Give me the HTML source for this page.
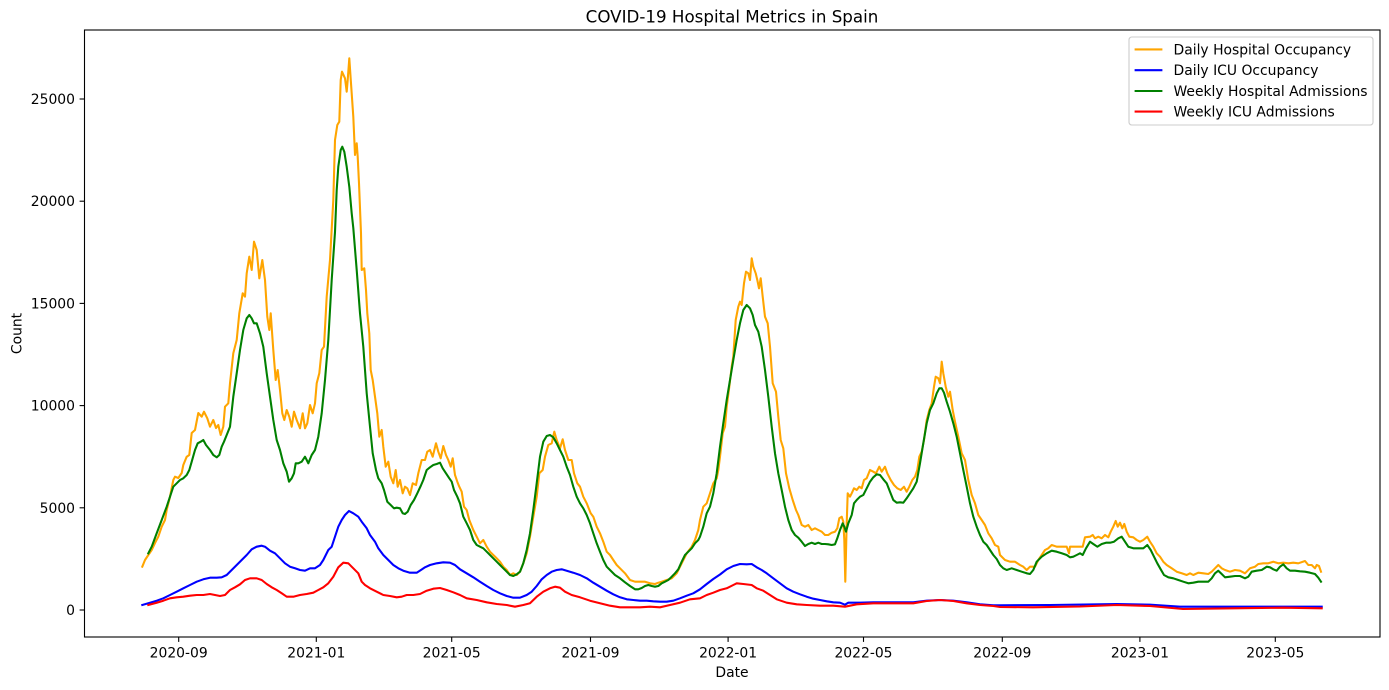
<!DOCTYPE html>
<html>
<head>
<meta charset="utf-8">
<style>
html,body{margin:0;padding:0;background:#fff;}
svg{display:block;}
text{font-family:"DejaVu Sans","Liberation Sans",sans-serif;fill:#000;}
</style>
</head>
<body>
<svg width="1389" height="690" viewBox="0 0 1389 690" xmlns="http://www.w3.org/2000/svg">
<rect x="0" y="0" width="1389" height="690" fill="#fff"/>
<defs>
<clipPath id="ax"><rect x="84.5" y="30" width="1295.5" height="607"/></clipPath>
</defs>

<text x="732" y="22.3" font-size="16.7" text-anchor="middle">COVID-19 Hospital Metrics in Spain</text>

<g clip-path="url(#ax)" fill="none" stroke-width="2.08" stroke-linejoin="round" stroke-linecap="square">
<!-- Daily Hospital Occupancy -->
<polyline stroke="#FFA500" points="142.3,566.7 145,560 148.3,555 151.7,550 155,543 158.3,536.7 161.7,526.7 165,520 166.7,510 170,496.7 173.3,480 175,476.7 178.3,478 181.7,473 183.3,465 186.7,456.7 189.3,455 191.7,433 195,430 198.3,413 201.7,416.7 204,411.7 207.3,418.3 210,426.7 213.3,420 216,428 218.3,425 220.7,435 223.3,426.7 225,406.7 228.3,403.3 230,383.3 233.3,353.3 236.7,340 239.3,313.3 242.7,293.3 245,296.7 246.7,273.3 249.3,256.7 251.7,270 254,241.7 256.7,250 259.3,278.3 262.3,260 265,280 267.3,316.7 269.3,330 270.7,313.3 273.3,350 275.7,380 277.7,370 280,390 282.3,413.3 284.3,420 286.7,410 289.3,416.7 291.7,426.7 294,411.7 296.7,420 300,428.3 302.7,413.3 305,428.3 307.3,423.3 310,405 312.7,413.3 315,403.3 316.7,383.3 319.3,373.3 321.7,350 324,346.7 326.7,296.7 330,260 333.3,200 335,140 337.3,125 339.3,121.7 340.7,80 342,71.7 345,78.3 346.7,91.7 347.7,80 349.3,58.3 351,83.3 353.3,116.7 355,155 356.7,143.3 357.7,156.7 359,183.3 361,233.3 361.7,270 364.3,268.3 366,290 367.3,313.3 369.3,333.3 370.7,370 372.7,380 375,396.7 377.3,413.3 379.3,436.7 381.7,430 383.3,446.7 385.7,466.7 388.3,461.7 390.7,476.7 393.3,483.3 395.7,470 397.7,486.7 400,480 402.7,493.3 405,486.7 407.3,488.3 410,495 412.7,483.3 416,485 418.3,473.3 421.7,460 425,460 427.3,451.7 430,450 432.7,456.7 436,443.3 438.3,451.7 440.7,458.3 443.3,446 446,455 448.3,460 450.7,466.7 452.7,458.3 455,475 457.3,481.7 459.3,486.7 461.7,491.7 464,506.7 466.7,510 469.3,520 473.3,530 476.7,536.7 480,543.3 483.3,540 486.7,546.7 490,551.7 493.3,555 496.7,558.3 500,561.7 503.3,566.7 506.7,570 510,575 513.3,573.3 516.7,575 520,571.7 523.3,563.3 526.7,553.3 530,536.7 533.3,516.7 536.7,496.7 539.3,473.3 542.7,470 545,456.7 548.3,445 551.7,443.3 554.3,431.7 556.7,440 560,448.3 562.7,439.3 565,450 568.3,460 571.7,460 574,473.3 577.3,483.3 580,486.7 583.3,496.7 586.7,503.3 590.7,513.3 593.3,516.7 596.7,526.7 600,533.3 603.3,541.7 606.7,551.7 610,555 613.3,560 616.7,565 620,568.3 625,573.3 630,580 635,581.7 640,581.7 645,581.7 650,583.3 655,584 658.3,582.7 661.7,581.7 666.7,580 671.7,578.3 676.7,573.3 681.7,563.3 686.7,553.3 691.7,546.7 695,540 698.3,530 700,520 703.3,506.7 706.7,503.3 710,493.3 713.3,483.3 716.7,478.3 718.3,470 720,456.7 722.7,433.3 725,426.7 726.7,406.7 729.3,386.7 731.7,366.7 733.3,356.7 735.7,320 738.3,306.7 740,301.7 741.7,305 744,283.3 746,271.7 748.3,273.3 750,280 751.7,258.3 753.3,266.7 755.7,273.3 757.3,280 759,288.3 760.7,278.3 762.7,296.7 765,316.7 767.7,323.3 770,346.7 772.7,383.3 776,391.7 778.3,416.7 780.7,440 783.3,448.3 786,473.3 789.3,488.3 792.7,500 796,510 798.3,515 801.7,525 805,526.7 808.3,525 811.7,530 815,528.3 818.3,530 821.7,531.7 825,535 828.3,535 831.7,532.7 835,531.7 837.3,528.3 839.3,518.3 841.7,516.7 843.3,521.7 844.3,540 845.3,581.7 846.7,523.3 847.7,493.3 850,496.7 851.7,493.3 854,488.3 856.7,490 859.3,486.7 861.7,488.3 864,480 866.7,478.3 870,470 873.3,471.7 876,473.3 879.3,466.7 881.7,471.7 885,466.7 887.3,473.3 890.7,480 894,485 897.3,488.3 900.7,490 904,486.7 906.7,491.7 909.3,486.7 912.3,480 915,476.7 917.3,470 919.3,456.7 921.7,451.7 924,440 926.7,420 929.3,410 931.7,403.3 934,386.7 935.7,376.7 938.3,378.3 940,383.3 941.7,361.7 943.3,373.3 945.7,386.7 948.3,396.7 950,391.7 952.7,410 955,421.7 958.3,436.7 961.7,453.3 965,460 968.3,480 971.7,495 975,503.3 978.3,515 981.7,520 985,525 988.3,533.3 991.7,538.3 995,545 998.3,546.7 1000,555 1005,560 1010,561.7 1015,561.7 1020,565 1023.3,566.7 1026.7,570 1030,566.7 1035,566.7 1038.3,560 1041.7,555 1045,550 1048.3,548.3 1051.7,545 1056.7,546.7 1061.7,546.7 1066.7,546.7 1069,553.3 1070,546.7 1075,546.7 1080,546.7 1082.7,546.7 1085,537.3 1090,536.7 1092.7,535 1095,538.3 1098.3,536.7 1101.7,538.3 1105,535 1108.3,537.3 1110.7,531.7 1113.3,526.7 1115.7,521 1117.7,526.7 1120,522.7 1122.3,528.3 1124.3,524 1126.7,531.7 1129.3,536.7 1133.3,537.3 1136.7,540 1140,541.7 1143.3,540 1147.3,536.7 1150,541.7 1153.3,546.7 1156.7,553.3 1160,556.7 1163.3,561.7 1166.7,565 1171.7,568.3 1176.7,571.7 1181.7,573.3 1186.7,575 1190,573.3 1193.3,575 1198.3,572.7 1203.3,573.3 1208.3,574 1211.7,571.7 1215,568.3 1218.3,565 1221.7,568.3 1225,570 1230,571.7 1235,570 1240,570.7 1245,573.3 1250,568.3 1255,566.7 1258.3,564 1263.3,563.3 1268.3,563.3 1273.3,561.7 1278.3,563.3 1283.3,562.7 1288.3,563.3 1293.3,562.7 1298.3,563.3 1305,561 1308.3,565 1311.7,565 1315,568.3 1316.7,565 1319,566 1321,571.7"/>

<!-- Daily ICU Occupancy -->
<polyline stroke="#0000FF" points="142.3,605 150,602.7 156.7,600.7 163.3,598.3 170,595 176.7,591.7 183.3,588.3 190,585 196.7,581.7 203.3,579.3 210,577.7 216.7,577.7 221.7,577.3 226.7,575 231.7,570 236.7,565 241.7,560 246.7,555 251.7,549.3 256.7,546.7 261.7,545.7 265,546.7 270,550.7 275,553.3 280,558.3 285,563.3 290,566.7 295,568.3 300,570 305,570.7 310,568.3 315,568.3 320,565 323.3,560 328.3,550 331.7,546.7 335,536.7 338.3,526.7 341.7,520 345,515 349,511 353.3,513.3 358.3,516.7 361.7,521.7 366.7,528.3 370,535 375,541.7 378.3,548.3 383.3,555 388.3,560 393.3,565 398.3,568.3 403.3,570.7 410,572.7 416.7,572.7 421.7,569.5 425,567.3 430,565 436.7,563.3 443.3,562.3 450,562.7 455,565 460,569.3 466.7,573.3 473.3,577.3 480,581.7 486.7,586 493.3,590 500,593.3 506.7,596 513.3,597.7 520,597.7 526.7,595 531.7,591.7 536.7,586 541.7,579.3 546.7,575 551.7,571.7 556.7,570 561.7,569.3 566.7,570.7 573.3,572.7 580,575 586.7,578.3 593.3,582.7 600,586.7 606.7,590.7 613.3,594.3 620,597.3 626.7,599.3 633.3,600 640,600.7 646.7,600.7 653.3,601.3 660,601.7 666.7,601.7 673.3,600.7 680,598.3 686.7,595.7 693.3,593.3 700,589.3 706.7,584 713.3,579 720,574.5 726.7,569.3 733.3,566 740,564 746.7,564.3 751.7,564 756.7,567.3 761.7,570 766.7,573.3 773.3,578.3 780,583.3 786.7,588.3 793.3,591.7 800,594.3 806.7,596.7 813.3,598.7 820,600 826.7,601.3 833.3,602.3 840,602.7 845,604.7 848.3,602.7 860,602.7 873.3,602.3 886.7,602.3 900,602.3 913.3,602.3 926.7,600.7 940,600 953.3,600.7 966.7,602.3 980,604.3 993.3,605.3 1000,605.3 1050,605 1116.7,604 1150,604.7 1180,606.7 1250,606.7 1321.7,606.7"/>

<!-- Weekly Hospital Admissions -->
<polyline stroke="#008000" points="148.3,553.3 151.7,546.7 156.7,533.3 161.7,520 166.7,506.7 170,496.7 173.3,486.7 176.7,483.3 180,480 183.3,478.3 186.7,475 189.3,470 191.7,461.7 195,450 197.7,443.3 200.7,441.7 203.3,440 206,445 210,450 213.3,455 216.7,457.3 219.3,455 221.7,446.7 224,441.7 226.7,435 230,426.7 233.3,396.7 236.7,373.3 240,350 243.3,330 246.7,318.3 249.3,315 251.7,318.3 254,323.3 256.7,323.3 260,333.3 263.3,346.7 266.7,373.3 270,396.7 273.3,420 276.7,440 280,450 283.3,463.3 286.7,471.7 289,481.7 291.7,478.3 294,473.3 295.7,463.3 298.3,463.3 301.7,461.7 305,456.7 306.7,460 308.3,463.3 311.7,455 315,450 318.3,436.7 321.7,413.3 325,380 328.3,340 331.7,280 335,232 336.7,190 338.3,166.7 340.7,150 342.3,146.7 344.3,151.7 346.7,166.7 349.3,186.7 351.7,213.3 353.3,228 356.7,270 360,313.3 363.3,346.7 366.7,393.3 370,426.7 372.7,453.3 376,470 378.3,478.3 381.7,483.3 384,490 387.3,501.7 390.7,505 394,508.3 396.7,507.7 400,508.3 402.7,513.3 405,514 407.7,511.7 410.7,505 414,500 417.3,493.3 420.7,486 423.3,480 426.7,470 430,467.3 433.3,465 436.7,464 440,462.7 442.7,468.3 446,473.3 449.3,478.3 451.7,481.7 454,490 457.3,496.7 460,503.3 463.3,516.7 466.7,523.3 470,530 473.3,540 476.7,545 480,546.7 483.3,548.3 486.7,551.7 490,555 493.3,558.3 496.7,561.7 500,565 503.3,568.3 506.7,571.7 510,575 513.3,576 516.7,574.3 520,571.7 523.3,563.3 526.7,550 530,533.3 533.3,510 536.7,483.3 540,456.7 543.3,441.7 546.7,436 550,435 553.3,437.3 556.7,443.3 560,450 563.3,456.7 566.7,466.7 570,475 573.3,486.7 576.7,496.7 580,503.3 583.3,508.3 586.7,515 590,523.3 593.3,533.3 596.7,543.3 600,551.7 603.3,560 606.7,566.7 610,570 615,575 620,578.3 625,582.3 630,586 635,589.3 638.3,589.3 641.7,588 645,586 648.3,585 651.7,586 655,586.7 658.3,586 661.7,583.3 665,581.7 668.3,580 671.7,576.7 675,573.3 678.3,569.3 681.7,561.7 685,555 688.3,551.7 691.7,548.3 695,543.3 698.3,540 700,536.7 703.3,526.7 706.7,513.3 710,506.7 713.3,493.3 716.7,473.3 720,446.7 723.3,423.3 726.7,400 730,380 733.3,360 736.7,340 740,323.3 743.3,310 746.7,305 750,308.3 752.7,315 755,325 758.3,331.7 761.7,346.7 765,370 768.3,396.7 771.7,426.7 775,453.3 778.3,473.3 781.7,490 785,506.7 788.3,520 791.7,530 795,535 798.3,537.7 801.7,541.7 805,546 808.3,544 811.7,542.7 815,544 818.3,542.7 821.7,544 825,544 828.3,544.3 831.7,545 835,544.3 837.3,538.3 840,530 842.7,523.3 844.3,526.7 846,531.7 848.3,523.3 851.7,515 854,503.3 856.7,500 860,496.7 863.3,495 866.7,488.3 870,481.7 873.3,477.3 876.7,474.3 880,475 883.3,479.3 886.7,483.3 890,491.7 893.3,500 896.7,502.7 900,502.3 903.3,502.7 906.7,498.3 910,493.3 913.3,488.3 916.7,481.7 920,463.3 923.3,443.3 926.7,423.3 930,410 933.3,403.3 936.7,393.3 939.3,388.3 941.7,388.3 944,392.7 946.7,401.7 950,411.7 953.3,423.3 956.7,436.7 960,453.3 963.3,470 966.7,486.7 970,503.3 973.3,516.7 976.7,526.7 980,535 983.3,541.7 986.7,545 990,550 993.3,555 996.7,559 1000,565 1003.3,568.3 1006.7,570 1011.7,568.3 1016.7,570 1021.7,571.7 1026.7,573.3 1030,574 1033.3,570 1036.7,561.7 1041.7,556.7 1046.7,553.3 1051.7,550.7 1056.7,551.7 1061.7,553.3 1066.7,555 1070,557.3 1073.3,556.7 1076.7,555 1080,553.3 1082.7,555 1086,548.3 1090,541.7 1093.3,544 1097.3,546.7 1101.7,544 1106,542.7 1110,542.7 1114,541.7 1118.3,538.3 1121.7,536.7 1125,541.7 1128.3,546.7 1133.3,548.3 1138.3,548.3 1143.3,548.3 1147.3,545 1150.7,550 1154,556.7 1157.3,563.3 1160.7,569.3 1164,575 1168.3,577.3 1173.3,578.3 1178.3,580 1183.3,581.7 1188.3,583.3 1193.3,582.7 1198.3,581.7 1203.3,581.7 1208.3,581.7 1211.7,578.3 1215,573.3 1218.3,570.7 1221.7,574 1225,577.3 1230,576.7 1235,576 1240,576 1245,578.3 1248.3,576.7 1251.7,571.7 1256.7,570.7 1261.7,570 1266.7,566.7 1270,567.3 1273.3,569.3 1276.7,570.7 1280,566.7 1283.3,564.3 1286.7,568.3 1290,570.7 1295,570.7 1300,571.3 1305,571.7 1310,572.7 1315,574 1318.3,577.7 1321,581.7"/>

<!-- Weekly ICU Admissions -->
<polyline stroke="#FF0000" points="148.3,605 156.7,602.7 163.3,600.7 170,598.3 176.7,597.3 183.3,596.7 190,595.7 196.7,595 203.3,595 210,594 215,595 220,596 225,595 230,590 235,587.3 240,584.3 245,580 250,578.3 256.7,578.3 261.7,580 266.7,584 271.7,587.3 276.7,590 281.7,593.3 286.7,596.7 293.3,596.7 300,595 306.7,594 313.3,592.7 318.3,590 323.3,587.3 328.3,583.3 333.3,576.7 338.3,567.3 343.3,562.7 348.3,563.3 353.3,568.3 358.3,573.3 361.7,581.7 365,585 370,588.3 376.7,591.7 383.3,595 390,596 396.7,597.3 401.7,596.7 406.7,595 413.3,595 420,594 426.7,590.7 433.3,588.7 440,588 446.7,590 453.3,592.3 460,595 466.7,598.3 476.7,600 486.7,602.3 496.7,604 506.7,605 515,606.7 523.3,605 530,603.3 536.7,596.7 543.3,591.7 550,588.3 555,586.7 560,587.7 565,591.7 571.7,595 580,597.3 590,600.7 600,603.3 610,605.7 620,607.3 630,607.3 640,607.3 650,606.7 660,607.3 670,605 680,602.7 690,599.3 700,598.3 706.7,595 713.3,592.7 720,590 726.7,588.3 733.3,585 736.7,583.3 743.3,584 751.7,585 756.7,588.3 763.3,590.7 770,595 776.7,599.3 786.7,602.7 796.7,604.3 806.7,605 820,605.7 833.3,605.7 845,606.7 856.7,604.3 873.3,603.3 886.7,603.3 900,603.3 913.3,603.3 926.7,601 940,600 953.3,601 966.7,603.3 980,605 993.3,606 1000,607 1033,607.3 1080,606.5 1116.7,605 1150,606 1183,609 1233,608.3 1283,607.7 1321.7,608.3"/>
</g>

<!-- axes frame -->
<rect x="84.5" y="30" width="1295.5" height="607" fill="none" stroke="#000" stroke-width="1.1"/>

<!-- y ticks -->
<g stroke="#000" stroke-width="1.1">
<line x1="79.6" y1="610" x2="84.5" y2="610"/>
<line x1="79.6" y1="507.8" x2="84.5" y2="507.8"/>
<line x1="79.6" y1="405.6" x2="84.5" y2="405.6"/>
<line x1="79.6" y1="303.4" x2="84.5" y2="303.4"/>
<line x1="79.6" y1="201.2" x2="84.5" y2="201.2"/>
<line x1="79.6" y1="99" x2="84.5" y2="99"/>
</g>
<g font-size="13.9" text-anchor="end">
<text x="75" y="615">0</text>
<text x="75" y="512.8">5000</text>
<text x="75" y="410.6">10000</text>
<text x="75" y="308.4">15000</text>
<text x="75" y="206.2">20000</text>
<text x="75" y="104">25000</text>
</g>

<!-- x ticks -->
<g stroke="#000" stroke-width="1.1">
<line x1="178.7" y1="637" x2="178.7" y2="641.9"/>
<line x1="316.3" y1="637" x2="316.3" y2="641.9"/>
<line x1="451.7" y1="637" x2="451.7" y2="641.9"/>
<line x1="590.5" y1="637" x2="590.5" y2="641.9"/>
<line x1="728.1" y1="637" x2="728.1" y2="641.9"/>
<line x1="863.5" y1="637" x2="863.5" y2="641.9"/>
<line x1="1002.3" y1="637" x2="1002.3" y2="641.9"/>
<line x1="1139.9" y1="637" x2="1139.9" y2="641.9"/>
<line x1="1275.3" y1="637" x2="1275.3" y2="641.9"/>
</g>
<g font-size="13.9" text-anchor="middle">
<text x="178.7" y="657.5">2020-09</text>
<text x="316.3" y="657.5">2021-01</text>
<text x="451.7" y="657.5">2021-05</text>
<text x="590.5" y="657.5">2021-09</text>
<text x="728.1" y="657.5">2022-01</text>
<text x="863.5" y="657.5">2022-05</text>
<text x="1002.3" y="657.5">2022-09</text>
<text x="1139.9" y="657.5">2023-01</text>
<text x="1275.3" y="657.5">2023-05</text>
</g>

<text x="732" y="677" font-size="13.9" text-anchor="middle">Date</text>
<text transform="translate(21.7,333.5) rotate(-90)" font-size="13.9" text-anchor="middle">Count</text>

<!-- legend -->
<rect x="1129" y="37" width="244" height="88" rx="2.8" ry="2.8" fill="#fff" fill-opacity="0.8" stroke="#cccccc" stroke-width="1.1"/>
<g stroke-width="2.08">
<line x1="1134.6" y1="49.4" x2="1162.4" y2="49.4" stroke="#FFA500"/>
<line x1="1134.6" y1="70.2" x2="1162.4" y2="70.2" stroke="#0000FF"/>
<line x1="1134.6" y1="91" x2="1162.4" y2="91" stroke="#008000"/>
<line x1="1134.6" y1="111.6" x2="1162.4" y2="111.6" stroke="#FF0000"/>
</g>
<g font-size="13.9">
<text x="1173.5" y="54.4">Daily Hospital Occupancy</text>
<text x="1173.5" y="75.2">Daily ICU Occupancy</text>
<text x="1173.5" y="96">Weekly Hospital Admissions</text>
<text x="1173.5" y="116.6">Weekly ICU Admissions</text>
</g>
</svg>
</body>
</html>
